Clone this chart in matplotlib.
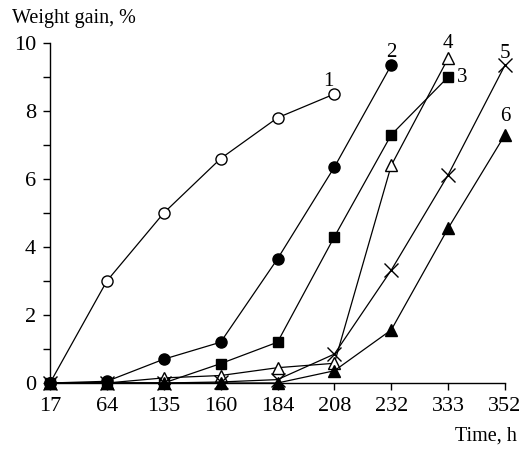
import numpy as np
import matplotlib
matplotlib.use("Agg")
import matplotlib.pyplot as plt

# time points (equally spaced on the axis)
times = ["17", "64", "135", "160", "184", "208", "232", "333", "352"]

# weight gain, % per curve (None = no point)
gain_1 = [0.0, 3.0, 5.0, 6.6, 7.8, 8.5, None, None, None]
gain_2 = [0.0, 0.05, 0.7, 1.2, 3.65, 6.35, 9.35, None, None]
gain_3 = [0.0, 0.0, 0.0, 0.57, 1.2, 4.3, 7.3, 9.0, None]
gain_4 = [0.0, 0.0, 0.15, 0.22, 0.45, 0.58, 6.4, 9.55, None]
gain_5 = [0.0, 0.0, 0.0, 0.03, 0.1, 0.85, 3.32, 6.12, 9.35]
gain_6 = [0.0, 0.0, 0.0, 0.0, 0.0, 0.36, 1.56, 4.55, 7.3]

curve_labels = ["1", "2", "3", "4", "5", "6"]

plt.rcParams['font.family'] = ['Liberation Serif', 'DejaVu Serif']

fig = plt.figure(figsize=(5.23, 4.51), dpi=100)
ax = fig.add_axes([50 / 523, 68 / 451, 455 / 523, 340 / 451])

x = np.arange(len(times))

def draw(vals, marker, face, ms=8):
    xs = [i for i, v in enumerate(vals) if v is not None]
    ys = [v for v in vals if v is not None]
    ax.plot(xs, ys, color="black", lw=0.9, marker=marker, ms=ms,
            mfc=face, mec="black", mew=1.0, clip_on=False)
    return xs[-1], ys[-1]

series = [
    (gain_1, "o", "white", 8),
    (gain_2, "o", "black", 8),
    (gain_3, "s", "black", 7.5),
    (gain_4, "^", "white", 8.5),
    (gain_5, "x", "none", 10),
    (gain_6, "^", "black", 8.5),
]
ends = []
for vals, m, f, ms in series:
    ends.append(draw(vals, m, f, ms))

# curve numbers near the last point
offsets = [(-0.1, 0.1), (0, 0.1), (0.15, 0.0), (0, 0.15), (0, 0.05), (0, 0.25)]
for lab, (ex, ey), (dx, dy) in zip(curve_labels, ends, offsets):
    side = lab == "3"
    ax.text(ex + dx, ey + dy, lab, fontsize=15,
            ha="left" if side else "center",
            va="center" if side else "bottom")

ax.set_xlim(0, len(times) - 1)
ax.set_ylim(0, 10)
ax.set_xticks(x)
ax.set_xticklabels(times)
ax.set_yticks(np.arange(0, 11, 1))
ax.set_yticklabels([str(v) if v % 2 == 0 else "" for v in range(0, 11)])
ax.tick_params(direction="out", length=5, width=1, labelsize=16)
ax.tick_params(axis="x", pad=5)
ax.tick_params(axis="y", pad=5)
ax.spines["top"].set_visible(False)
ax.spines["right"].set_visible(False)
for s in ("left", "bottom"):
    ax.spines[s].set_linewidth(1.0)

fig.text(12 / 523, 1 - 18 / 451, "Weight gain, %", fontsize=14.5, ha="left", va="center")
fig.text(517 / 523, 1 - 436 / 451, "Time, h", fontsize=14.5, ha="right", va="center")

fig.savefig("out.png", dpi=100)
